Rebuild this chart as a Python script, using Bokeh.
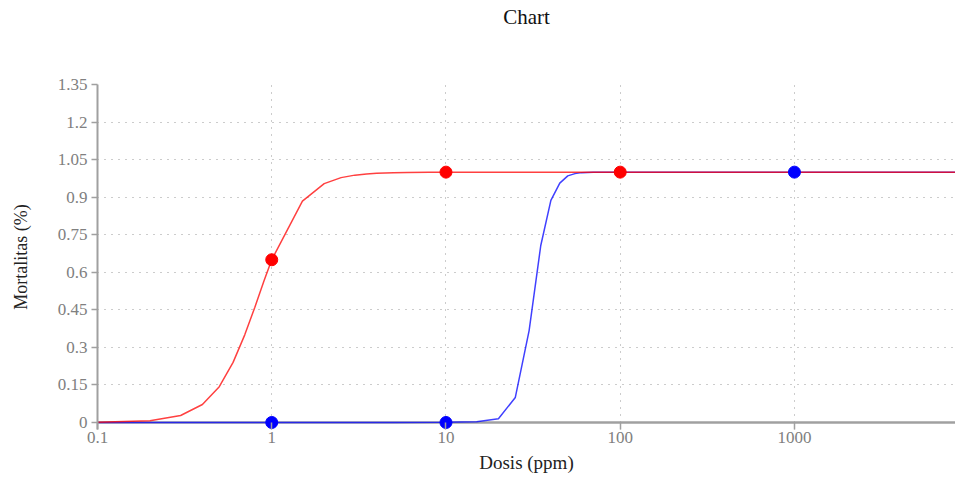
from bokeh.plotting import figure
from bokeh.models import Range1d, FixedTicker, CustomJSTickFormatter, Span, Title
from bokeh.embed import file_html
from bokeh.resources import INLINE

# Data
red_x = [0.1, 0.2, 0.3, 0.4, 0.5, 0.6, 0.7, 0.8, 0.9, 1.0, 1.5, 2.0, 2.5, 3.0,
         3.5, 4.0, 5.0, 6.0, 8.0, 10, 20, 50, 100, 200, 500, 1000, 2000, 5000, 10000]
red_y = [0.0006, 0.007, 0.028, 0.072, 0.143, 0.24, 0.35, 0.46, 0.563, 0.65, 0.884,
         0.954, 0.978, 0.988, 0.993, 0.996, 0.998, 0.999, 1, 1, 1, 1, 1, 1, 1, 1, 1, 1, 1]

blue_x = [0.1, 1, 5, 10, 15, 20, 25, 30, 35, 40, 45, 50, 55, 60, 70, 80, 100,
          200, 500, 1000, 2000, 5000, 10000]
blue_y = [0, 0, 0, 0.0005, 0.003, 0.015, 0.10, 0.367, 0.707, 0.887, 0.956, 0.985,
          0.994, 0.998, 1, 1, 1, 1, 1, 1, 1, 1, 1]

red_pts_x = [1, 10, 100]
red_pts_y = [0.65, 1, 1]
blue_pts_x = [1, 10, 1000]
blue_pts_y = [0, 0, 1]

x_ticks = [0.1, 1, 10, 100, 1000]
y_ticks = [0, 0.15, 0.3, 0.45, 0.6, 0.75, 0.9, 1.05, 1.2, 1.35]
x_min, x_max = 0.1, 8400
y_min, y_max = 0, 1.35
y_pad = 0.028  # room below zero so the markers on the axis are not clipped

FONT = "Liberation Serif"
AXIS_GREY = "#a0a0a0"

p = figure(width=955, height=478, x_axis_type="log",
           x_range=Range1d(x_min, x_max), y_range=Range1d(y_min - y_pad, y_max),
           output_backend="svg", toolbar_location=None,
           min_border_left=97, min_border_right=0, min_border_top=84,
           min_border_bottom=49)

# empty spacer between frame and title, so the title sits near the top edge
p.add_layout(Title(text=" ", text_font_size="1px", standoff=51), "above")

p.title.text = "Chart"
p.title.align = "center"
p.title.vertical_align = "top"
p.title.text_font = FONT
p.title.text_font_size = "21px"
p.title.text_font_style = "normal"
p.title.text_color = "#111111"
p.title.standoff = 0

p.outline_line_color = None

fmt = CustomJSTickFormatter(code="return String(tick);")
for ax in (p.xaxis[0], p.yaxis[0]):
    ax.major_label_text_font = FONT
    ax.major_label_text_font_size = "17px"
    ax.major_label_text_color = "#808080"
    ax.axis_line_color = AXIS_GREY
    ax.axis_line_width = 2
    ax.major_tick_line_color = AXIS_GREY
    ax.major_tick_line_width = 1.5
    ax.minor_tick_line_color = None
    ax.axis_label_text_font = FONT
    ax.axis_label_text_font_style = "normal"
    ax.axis_label_text_color = "#222222"
    ax.formatter = fmt

# x axis sits at the frame bottom (slightly below zero); its line is drawn at y=0 by a span
p.xaxis.ticker = FixedTicker(ticks=x_ticks)
p.xaxis.axis_line_color = None
p.xaxis.major_tick_in = 7
p.xaxis.major_tick_out = 0
p.xaxis.major_label_standoff = 2
p.xaxis.axis_label = "Dosis (ppm)"
p.xaxis.axis_label_text_font_size = "19px"
p.xaxis.axis_label_standoff = 6

p.yaxis.ticker = FixedTicker(ticks=y_ticks)
p.yaxis.bounds = (y_min - y_pad, y_max)
p.yaxis.major_tick_out = 6
p.yaxis.major_tick_in = 0
p.yaxis.major_label_standoff = 4
p.yaxis.axis_label = "Mortalitas (%)"
p.yaxis.axis_label_text_font_size = "18px"
p.yaxis.axis_label_standoff = 24

for g in (p.xgrid[0], p.ygrid[0]):
    g.grid_line_color = "#999999"
    g.grid_line_dash = "1 6"
    g.grid_line_width = 1

# blank the strip below zero so grid lines stop at the axis
p.quad(left=[x_min], right=[x_max], bottom=[y_min - y_pad], top=[y_min - 0.005],
       fill_color="white", line_color=None, level="underlay")

p.add_layout(Span(location=y_min, dimension="width", line_color=AXIS_GREY,
                  line_width=2.5, level="underlay"))

p.line(blue_x, blue_y, line_color="blue", line_width=1.5, line_alpha=0.75)
p.line(red_x, red_y, line_color="red", line_width=1.5, line_alpha=0.75)
p.scatter(red_pts_x, red_pts_y, size=12, fill_color="red", line_color="red")
p.scatter(blue_pts_x, blue_pts_y, size=12, fill_color="blue", line_color="blue")

open("out.html", "w").write(file_html(p, INLINE))
